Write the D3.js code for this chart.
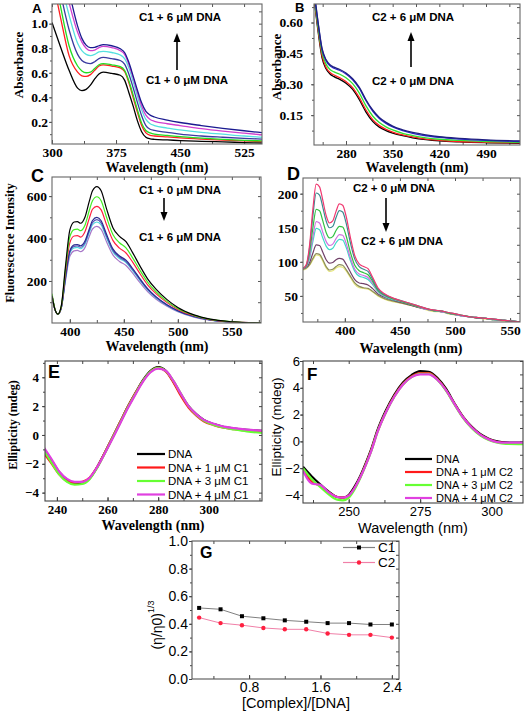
<!DOCTYPE html>
<html><head><meta charset="utf-8">
<script src="https://cdn.jsdelivr.net/npm/d3@7"></script>
<style>body{margin:0;background:#fff}</style>
</head><body>
<svg id="c" width="529" height="711" xmlns="http://www.w3.org/2000/svg"></svg>
<script>
// ---------------- Panel A: UV-vis C1 ----------------
const aWave = [300,310,320,330,335,340,345,350,355,360,370,380,385,390,395,400,405,410,415,420,435,450,475,500,525,546];
const aC1_0 = [1.01,0.81,0.62,0.475,0.455,0.465,0.50,0.55,0.59,0.605,0.595,0.58,0.54,0.44,0.33,0.21,0.12,0.075,0.062,0.058,0.053,0.048,0.042,0.037,0.032,0.028];
const aC1_1 = [1.38,1.05,0.74,0.605,0.575,0.57,0.585,0.62,0.655,0.665,0.655,0.64,0.61,0.52,0.40,0.28,0.17,0.11,0.09,0.085,0.078,0.07,0.06,0.052,0.045,0.04];
const aC1_2 = [1.50,1.14,0.82,0.655,0.615,0.60,0.605,0.635,0.665,0.675,0.665,0.65,0.62,0.535,0.42,0.30,0.19,0.13,0.11,0.10,0.09,0.08,0.068,0.058,0.05,0.045];
const aC1_3 = [1.60,1.25,0.95,0.75,0.70,0.68,0.675,0.69,0.715,0.725,0.715,0.70,0.67,0.59,0.48,0.36,0.25,0.17,0.14,0.13,0.115,0.10,0.085,0.075,0.066,0.06];
const aC1_4 = [1.70,1.35,1.07,0.84,0.78,0.75,0.74,0.75,0.77,0.775,0.765,0.745,0.715,0.64,0.53,0.41,0.30,0.22,0.185,0.17,0.15,0.135,0.115,0.10,0.085,0.075];
const aC1_5 = [1.80,1.45,1.17,0.93,0.85,0.80,0.78,0.785,0.805,0.815,0.805,0.78,0.75,0.67,0.56,0.44,0.33,0.255,0.22,0.205,0.185,0.17,0.145,0.125,0.108,0.095];
const aC1_6 = [1.90,1.55,1.26,0.98,0.88,0.825,0.805,0.807,0.82,0.83,0.82,0.795,0.765,0.685,0.575,0.46,0.355,0.285,0.255,0.24,0.215,0.195,0.17,0.148,0.128,0.112];
const aXTicks = [300,375,450,525];
const aYTicks = [0.2,0.4,0.6,0.8,1.0];

// ---------------- Panel B: UV-vis C2 ----------------
const bWave = [232,238,244,250,256,262,270,280,290,300,310,320,330,340,350,365,380,400,420,450,490,541];
const bC2_0 = [0.72,0.56,0.43,0.375,0.35,0.337,0.325,0.305,0.275,0.225,0.165,0.12,0.092,0.075,0.063,0.05,0.04,0.031,0.025,0.02,0.016,0.013];
const bC2_1 = [0.73,0.57,0.44,0.383,0.357,0.345,0.333,0.313,0.284,0.235,0.175,0.128,0.099,0.081,0.068,0.054,0.044,0.034,0.028,0.022,0.018,0.015];
const bC2_2 = [0.74,0.58,0.455,0.398,0.372,0.36,0.35,0.332,0.303,0.257,0.195,0.146,0.114,0.093,0.078,0.062,0.051,0.04,0.033,0.027,0.022,0.018];
const bC2_3 = [0.75,0.60,0.47,0.415,0.39,0.378,0.368,0.35,0.322,0.28,0.22,0.17,0.134,0.11,0.093,0.075,0.062,0.05,0.042,0.034,0.027,0.022];
const bC2_4 = [0.76,0.605,0.475,0.42,0.395,0.383,0.373,0.355,0.327,0.285,0.225,0.175,0.139,0.115,0.097,0.079,0.066,0.054,0.045,0.037,0.03,0.025];
const bXTicks = [280,350,420,490];
const bYTicks = [0.15,0.30,0.45,0.60];

// ---------------- Panel C: Fluorescence C1 ----------------
const cWave = [383.5,386,389,392,396,400,404,407,410,414,418,421,425,429,434,440,446,452,458,465,472,480,490,500,515,530,550,577];
const cC1_0 = [130,70,44,80,270,440,478,480,472,500,575,625,645,625,540,450,410,385,335,270,210,160,112,75,40,20,8,2];
const cC1_1 = [140,72,44,78,255,408,442,444,437,463,532,578,597,578,500,418,380,356,310,250,195,148,104,70,38,19,8,2];
const cC1_2 = [135,71,44,76,240,380,412,414,407,432,495,538,552,535,465,390,355,332,290,234,182,139,98,66,36,18,7,2];
const cC1_3 = [132,70,44,72,218,342,370,372,366,388,445,485,500,484,420,350,318,298,260,210,164,125,88,60,33,17,7,2];
const cC1_4 = [131,70,44,71,214,336,363,365,359,380,436,475,489,474,411,343,312,292,255,206,161,122,86,59,32,16,6,2];
const cC1_5 = [131,70,43,71,210,330,356,358,352,373,428,465,478,464,403,337,306,287,250,202,158,120,85,58,32,16,6,2];
const cC1_6 = [130,69,43,70,202,316,342,344,338,357,410,445,457,443,385,322,292,273,238,192,150,114,81,55,30,15,6,2];
const cXTicks = [400,450,500,550];
const cYTicks = [200,400,600];

// ---------------- Panel D: Fluorescence C2 ----------------
const dWave = [362,365,368,371,374,377,380,383,386,389,392,395,398,401,405,409,413,417,421,425,430,436,445,455,465,475,482,487,493,505,515,522,528,535,545,559];
const dC2_0 = [90,96,125,178,214,210,190,168,157,160,174,185,183,168,136,109,97,93,90,78,62,53,46,41,36,31,29,28,26,22,19,18,17,16,14,12];
const dC2_1 = [90,95,121,168,201,198,180,160,150,152,165,175,173,158,128,104,93,89,86,75,60,52,46,41,36,31,29,28,26,22,19,18,17,16,14,12];
const dC2_2 = [90,94,114,150,177,175,160,143,135,137,146,152,151,139,114,95,87,84,81,72,58,51,45,40,35,31,28,28,25,22,19,18,17,16,14,12];
const dC2_3 = [90,93,108,137,159,157,143,130,124,126,134,140,139,128,106,89,82,80,77,69,57,50,45,40,35,30,28,27,25,21,19,18,17,16,14,12];
const dC2_4 = [90,93,105,130,149,147,135,123,118,120,128,133,132,122,102,86,79,77,74,67,56,49,44,40,35,30,28,27,25,21,19,18,17,15,14,12];
const dC2_5 = [90,92,99,113,125,124,114,103,98,99,103,105,104,97,85,74,69,68,66,61,53,48,43,39,34,30,28,27,25,21,19,17,17,15,14,12];
const dC2_6 = [89,91,96,105,112,111,103,93,88,89,93,96,95,89,79,69,64,62,61,57,51,46,42,38,34,30,28,27,25,21,19,17,17,15,14,12];
const dC2_7 = [88,90,95,103,110,109,101,91,86,87,91,93,92,87,77,67,62,61,60,56,50,45,41,38,34,29,27,27,24,21,19,17,16,15,13,12];
const dXTicks = [400,450,500,550];
const dYTicks = [50,100,150,200];

// ---------------- Panel E: CD C1 ----------------
const eWave = [235,238,241,244,247,250,253,256,259,262,265,268,271,274,277,280,283,286,289,292,295,298,302,306,310,315,321];
const eDNA  = [-1.0,-1.8,-2.6,-3.1,-3.35,-3.35,-3.0,-2.2,-1.2,-0.15,0.9,1.95,2.9,3.8,4.45,4.7,4.45,3.7,2.8,2.0,1.45,1.05,0.75,0.55,0.45,0.35,0.28];
const eC1_1 = [-1.3,-2.0,-2.75,-3.2,-3.3,-3.25,-2.95,-2.2,-1.2,-0.15,0.9,1.95,2.9,3.75,4.4,4.65,4.4,3.65,2.7,1.9,1.35,0.95,0.68,0.5,0.4,0.3,0.22];
const eC1_3 = [-1.1,-1.95,-2.75,-3.25,-3.45,-3.4,-3.05,-2.25,-1.25,-0.2,0.85,1.9,2.85,3.75,4.4,4.65,4.45,3.75,2.85,2.0,1.4,1.0,0.7,0.5,0.38,0.25,0.15];
const eC1_4 = [-0.9,-1.7,-2.55,-3.05,-3.25,-3.25,-2.95,-2.2,-1.25,-0.25,0.8,1.85,2.8,3.7,4.35,4.6,4.45,3.75,2.85,2.0,1.45,1.05,0.78,0.58,0.47,0.37,0.3];
const eXTicks = [240,260,280,300];
const eYTicks = [-4,-2,0,2,4];
const eLegend = ["DNA","DNA + 1 μM C1","DNA + 3 μM C1","DNA + 4 μM C1"];

// ---------------- Panel F: CD C2 ----------------
const fWave = [234,237,240,243,246,248,250,252,254,256,258,260,263,266,269,272,275,278,281,284,287,290,293,296,299,302,305,311];
const fDNA  = [-1.9,-2.6,-3.2,-3.75,-4.15,-4.2,-4.0,-3.4,-2.6,-1.6,-0.5,0.8,2.3,3.5,4.4,4.95,5.25,5.2,4.75,3.95,2.85,1.85,1.1,0.55,0.2,0.0,-0.08,-0.1];
const fC2_1 = [-2.1,-3.0,-3.3,-3.8,-4.15,-4.2,-4.05,-3.5,-2.7,-1.7,-0.6,0.7,2.2,3.4,4.3,4.85,5.1,5.1,4.65,3.85,2.8,1.8,1.05,0.5,0.15,-0.05,-0.12,-0.15];
const fC2_3 = [-2.0,-2.8,-3.4,-3.95,-4.35,-4.4,-4.2,-3.6,-2.75,-1.75,-0.65,0.65,2.15,3.35,4.25,4.8,5.05,5.05,4.6,3.8,2.75,1.75,1.0,0.45,0.1,-0.1,-0.18,-0.2];
const fC2_4 = [-2.2,-3.15,-3.25,-3.8,-4.15,-4.2,-4.05,-3.5,-2.7,-1.75,-0.65,0.65,2.15,3.35,4.25,4.8,5.0,5.0,4.6,3.85,2.8,1.8,1.05,0.5,0.15,-0.05,-0.1,-0.1];
const fXTicks = [250,275,300];
const fYTicks = [-4,-2,0,2,4,6];
const fLegend = ["DNA","DNA + 1 μM C2","DNA + 3 μM C2","DNA + 4 μM C2"];

// ---------------- Panel G: viscosity ----------------
const gRatio = [0.24,0.48,0.72,0.96,1.2,1.44,1.68,1.92,2.16,2.4];
const gC1 = [0.515,0.505,0.455,0.44,0.425,0.415,0.405,0.405,0.395,0.395];
const gC2 = [0.445,0.405,0.39,0.37,0.36,0.36,0.33,0.32,0.32,0.30];
const gXTicks = [0.8,1.6,2.4];
const gYTicks = [0.0,0.2,0.4,0.6,0.8,1.0];

// ====================================================
const svg = d3.select('#c');
const SERIF = "'Liberation Serif','Times New Roman',serif";
const SANS = "'Liberation Sans',Arial,Helvetica,sans-serif";
const defs = svg.append('defs');

function minorTicks(domain, step) {
  const out = [];
  const s = Math.ceil(domain[0] / step - 1e-9);
  for (let k = s; k * step <= domain[1] + 1e-9; k++) out.push(+(k * step).toFixed(6));
  return out;
}

function panel(c) {
  const x = d3.scaleLinear().domain(c.xd).range([c.l, c.r]);
  const y = d3.scaleLinear().domain(c.yd).range([c.b, c.t]);
  const g = svg.append('g');
  const cid = 'clip-' + c.id;
  defs.append('clipPath').attr('id', cid).append('rect')
    .attr('x', c.l).attr('y', c.t).attr('width', c.r - c.l).attr('height', c.b - c.t);

  const styleAxis = sel => {
    sel.select('.domain').remove();
    sel.attr('font-family', c.font).attr('font-size', c.fs).attr('font-weight', c.fw);
    sel.selectAll('line').attr('stroke', c.axisColor);
    sel.selectAll('text').attr('fill', '#000').attr('font-family', c.font)
      .attr('font-size', c.fs).attr('font-weight', c.fw);
  };
  const xAll = minorTicks(c.xd, c.xMinor);
  const yAll = minorTicks(c.yd, c.yMinor);
  g.append('g').attr('transform', `translate(0,${c.b})`)
    .call(d3.axisBottom(x).tickValues(xAll).tickFormat('').tickSizeInner(-3).tickSizeOuter(0)).call(styleAxis);
  g.append('g').attr('transform', `translate(0,${c.b})`)
    .call(d3.axisBottom(x).tickValues(c.xt).tickFormat(c.xf).tickSizeInner(-4).tickSizeOuter(0).tickPadding(c.xpad)).call(styleAxis);
  g.append('g').attr('transform', `translate(0,${c.t})`)
    .call(d3.axisTop(x).tickValues(xAll).tickFormat('').tickSizeInner(-3).tickSizeOuter(0)).call(styleAxis);
  g.append('g').attr('transform', `translate(${c.l},0)`)
    .call(d3.axisLeft(y).tickValues(yAll).tickFormat('').tickSizeInner(2).tickSizeOuter(0)).call(styleAxis);
  g.append('g').attr('transform', `translate(${c.l},0)`)
    .call(d3.axisLeft(y).tickValues(c.yt).tickFormat(c.yf).tickSizeInner(3).tickSizeOuter(0).tickPadding(c.ypad)).call(styleAxis);
  g.append('g').attr('transform', `translate(${c.r},0)`)
    .call(d3.axisRight(y).tickValues(yAll).tickFormat('').tickSizeInner(-3).tickSizeOuter(0)).call(styleAxis);

  const line = d3.line().x(d => x(d[0])).y(d => y(d[1])).curve(c.curve || d3.curveMonotoneX);
  const lg = g.append('g').attr('clip-path', `url(#${cid})`);
  c.series.forEach(s => {
    lg.append('path').datum(c.xs.map((v, i) => [v, s.v[i]]))
      .attr('d', line).attr('fill', 'none').attr('stroke', s.color)
      .attr('stroke-width', c.lw).attr('stroke-linejoin', 'round');
  });
  g.append('rect').attr('x', c.l).attr('y', c.t).attr('width', c.r - c.l).attr('height', c.b - c.t)
    .attr('fill', 'none').attr('stroke', c.frameColor).attr('stroke-width', 1.1);
  return {x, y, g};
}

function text(t, x, y, o) {
  const e = svg.append('text').attr('x', x).attr('y', y).text(t)
    .attr('font-family', o.font).attr('font-size', o.fs).attr('font-weight', o.fw || 'normal')
    .attr('text-anchor', o.anchor || 'middle').attr('fill', '#000');
  if (o.rot) e.attr('transform', `rotate(-90,${x},${y})`).attr('dominant-baseline', 'central');
  return e;
}
function arrow(x, y1, y2) {
  const dir = y2 < y1 ? -1 : 1;
  svg.append('line').attr('x1', x).attr('x2', x).attr('y1', y1).attr('y2', y2 - dir * 8)
    .attr('stroke', '#000').attr('stroke-width', 1.6);
  svg.append('path').attr('d', `M${x - 3.5},${y2 - dir * 9}L${x + 3.5},${y2 - dir * 9}L${x},${y2}Z`).attr('fill', '#000');
}

const serifB = {font: SERIF, fw: 'bold'};
const f2 = d3.format('.2f'), f1 = d3.format('.1f'), f0 = d3.format('d');

// Panel A
panel({id: 'A', l: 52, r: 262, t: 4, b: 144, xd: [300, 546], yd: [0.02, 1.16],
  xt: aXTicks, yt: aYTicks, xf: f0, yf: f1, xMinor: 37.5, yMinor: 0.1, xpad: 3.5, ypad: 1,
  font: SERIF, fs: 13.5, fw: 'bold', axisColor: '#555', frameColor: '#666', lw: 1.3, xs: aWave,
  series: [{v: aC1_0, color: '#000'}, {v: aC1_1, color: '#ff2020'}, {v: aC1_2, color: '#22dd22'},
           {v: aC1_3, color: '#3a3aa0'}, {v: aC1_4, color: '#55e0e0'}, {v: aC1_5, color: '#d040d0'},
           {v: aC1_6, color: '#1a1a90'}]});
text('Wavelength (nm)', 157, 172, {...serifB, fs: 14});
text('Absorbance', 18, 65, {...serifB, fs: 13, rot: true});
text('A', 32, 13, {font: SANS, fw: 900, fs: 13.5, anchor: 'start'});
text('C1 + 6 μM DNA', 180, 21, {font: SANS, fw: 'bold', fs: 11.5});
text('C1 + 0 μM DNA', 187, 84, {font: SANS, fw: 'bold', fs: 11.5});
arrow(177, 70, 33);

// Panel B
panel({id: 'B', l: 314, r: 520, t: 4, b: 145, xd: [232, 541], yd: [0.005, 0.69],
  xt: bXTicks, yt: bYTicks, xf: f0, yf: f2, xMinor: 35, yMinor: 0.075, xpad: 3, ypad: 8,
  font: SERIF, fs: 13.5, fw: 'bold', axisColor: '#555', frameColor: '#666', lw: 1.3, xs: bWave,
  series: [{v: bC2_0, color: '#000'}, {v: bC2_1, color: '#ff2020'}, {v: bC2_2, color: '#30e030'},
           {v: bC2_3, color: '#2828c8'}, {v: bC2_4, color: '#202080'}]});
text('Wavelength (nm)', 417, 172, {...serifB, fs: 14});
text('Absorbance', 276, 67, {...serifB, fs: 13, rot: true});
text('B', 295, 12, {font: SANS, fw: 900, fs: 13, anchor: 'start'});
text('C2 + 6 μM DNA', 413, 21, {font: SANS, fw: 'bold', fs: 11.5});
text('C2 + 0 μM DNA', 413, 85, {font: SANS, fw: 'bold', fs: 11.5});
arrow(411, 67, 32);

// Panel C
panel({id: 'C', l: 52, r: 261, t: 177, b: 323, xd: [383.5, 577], yd: [2, 690],
  xt: cXTicks, yt: cYTicks, xf: f0, yf: f0, xMinor: 25, yMinor: 100, xpad: 3.5, ypad: 2,
  font: SERIF, fs: 13.5, fw: 'bold', axisColor: '#555', frameColor: '#666', lw: 1.2, xs: cWave,
  series: [{v: cC1_6, color: '#a878c8'}, {v: cC1_5, color: '#50d8e0'}, {v: cC1_4, color: '#5a5ab8'},
           {v: cC1_3, color: '#2a2a90'}, {v: cC1_2, color: '#ff2040'}, {v: cC1_1, color: '#44ee22'},
           {v: cC1_0, color: '#000'}]});
text('Wavelength (nm)', 157, 350.5, {...serifB, fs: 14});
text('Fluorescence Intensity', 10, 243, {...serifB, fs: 12.5, rot: true});
text('C', 31, 182, {font: SANS, fw: 900, fs: 18, anchor: 'start'});
text('C1 + 0 μM DNA', 180, 194, {font: SANS, fw: 'bold', fs: 11.5});
text('C1 + 6 μM DNA', 180, 241, {font: SANS, fw: 'bold', fs: 11.5});
arrow(164, 198, 221);

// Panel D
panel({id: 'D', l: 303, r: 520, t: 178, b: 322, xd: [362, 559], yd: [11.7, 223],
  xt: dXTicks, yt: dYTicks, xf: f0, yf: f0, xMinor: 25, yMinor: 25, xpad: 3.5, ypad: 2,
  font: SERIF, fs: 13.5, fw: 'bold', axisColor: '#555', frameColor: '#666', lw: 1.2, xs: dWave,
  series: [{v: dC2_7, color: '#e6e67a'}, {v: dC2_6, color: '#8c8c5a'}, {v: dC2_5, color: '#704068'},
           {v: dC2_4, color: '#40d8c8'}, {v: dC2_3, color: '#d070e0'}, {v: dC2_2, color: '#30c040'},
           {v: dC2_1, color: '#3a8a90'}, {v: dC2_0, color: '#f03870'}]});
text('Wavelength (nm)', 411, 352.5, {...serifB, fs: 14});
text('D', 287, 180, {font: SANS, fw: 900, fs: 18, anchor: 'start'});
text('C2 + 0 μM DNA', 394, 192, {font: SANS, fw: 'bold', fs: 11.5});
text('C2 + 6 μM DNA', 402, 245, {font: SANS, fw: 'bold', fs: 11.5});
arrow(386, 198, 232);

// Panel E
const eCols = ['#000', '#ff1a1a', '#66ff33', '#e040e0'];
panel({id: 'E', l: 45, r: 262, t: 361, b: 501, xd: [235.3, 321], yd: [-4.58, 5.13],
  xt: eXTicks, yt: eYTicks, xf: f0, yf: f0, xMinor: 10, yMinor: 1, xpad: 3.5, ypad: 3,
  font: SERIF, fs: 13, fw: 'bold', axisColor: '#444', frameColor: '#444', lw: 2.2, xs: eWave,
  series: [{v: eDNA, color: eCols[0]}, {v: eC1_1, color: eCols[1]}, {v: eC1_3, color: eCols[2]}, {v: eC1_4, color: eCols[3]}]});
text('Wavelength (nm)', 153, 530, {...serifB, fs: 14});
text('Ellipticity (mdeg)', 13, 425, {...serifB, fs: 12, rot: true});
text('E', 48, 378, {font: SANS, fw: 900, fs: 18, anchor: 'start'});
const eLegY = [454, 467.5, 481, 494.5];
eLegend.forEach((t, i) => {
  svg.append('line').attr('x1', 137).attr('x2', 165).attr('y1', eLegY[i]).attr('y2', eLegY[i])
    .attr('stroke', eCols[i]).attr('stroke-width', 2.2);
  text(t, 168, eLegY[i] + 4.1, {font: SANS, fs: 11.5, anchor: 'start'});
});

// Panel F
panel({id: 'F', l: 303, r: 523, t: 361, b: 503, xd: [234, 311], yd: [-4.6, 6],
  xt: fXTicks, yt: fYTicks, xf: f0, yf: f0, xMinor: 12.5, yMinor: 1, xpad: 4, ypad: 0,
  font: SANS, fs: 13, fw: 'normal', axisColor: '#444', frameColor: '#444', lw: 2.2, xs: fWave,
  series: [{v: fDNA, color: eCols[0]}, {v: fC2_1, color: eCols[1]}, {v: fC2_3, color: eCols[2]}, {v: fC2_4, color: eCols[3]}]});
text('Wavelength (nm)', 413, 533, {font: SANS, fs: 14.5});
text('Ellipticity (mdeg)', 276, 427, {font: SANS, fs: 13.5, rot: true});
text('F', 307, 380, {font: SANS, fw: 900, fs: 17, anchor: 'start'});
const fLegY = [459, 472, 485, 498];
fLegend.forEach((t, i) => {
  svg.append('line').attr('x1', 405).attr('x2', 432).attr('y1', fLegY[i]).attr('y2', fLegY[i])
    .attr('stroke', eCols[i]).attr('stroke-width', 2.2);
  text(t, 436, fLegY[i] + 4, {font: SANS, fs: 11, anchor: 'start'});
});

// Panel G
const G = panel({id: 'G', l: 192, r: 399, t: 541, b: 679, xd: [0.16, 2.48], yd: [0, 1],
  xt: gXTicks, yt: gYTicks, xf: f1, yf: f1, xMinor: 0.4, yMinor: 0.1, xpad: 3, ypad: 1,
  font: SANS, fs: 14, fw: 'normal', axisColor: '#444', frameColor: '#555', lw: 1, xs: gRatio,
  curve: d3.curveLinear,
  series: [{v: gC1, color: '#808080'}, {v: gC2, color: '#f080a8'}]});
G.g.selectAll('rect.m1').data(gRatio).join('rect').attr('class', 'm1')
  .attr('x', (d) => G.x(d) - 2).attr('y', (d, i) => G.y(gC1[i]) - 2).attr('width', 4).attr('height', 4).attr('fill', '#000');
G.g.selectAll('circle.m2').data(gRatio).join('circle').attr('class', 'm2')
  .attr('cx', d => G.x(d)).attr('cy', (d, i) => G.y(gC2[i])).attr('r', 2.2).attr('fill', '#ff2040');
text('[Complex]/[DNA]', 296, 708, {font: SANS, fs: 14.5});
const gy = svg.append('text').attr('transform', 'translate(157,625) rotate(-90)')
  .attr('text-anchor', 'middle').attr('dominant-baseline', 'central')
  .attr('font-family', SANS).attr('font-size', 14).attr('fill', '#000');
gy.append('tspan').text('(η/η0)');
gy.append('tspan').text('1/3').attr('font-size', 9).attr('dy', -6);
text('G', 200, 558, {font: SANS, fw: 900, fs: 16, anchor: 'start'});
[[gC1, '#808080', 547.5, 'C1'], [gC2, '#f080a8', 562.5, 'C2']].forEach(([arr, col, yy, lab], i) => {
  svg.append('line').attr('x1', 343).attr('x2', 375).attr('y1', yy).attr('y2', yy).attr('stroke', col).attr('stroke-width', 1.2);
  if (i === 0) svg.append('rect').attr('x', 359 - 2).attr('y', yy - 2).attr('width', 4).attr('height', 4).attr('fill', '#000');
  else svg.append('circle').attr('cx', 359).attr('cy', yy).attr('r', 2.2).attr('fill', '#ff2040');
  text(lab, 378, yy + 4.8, {font: SANS, fs: 13.5, anchor: 'start'});
});
</script>
</body></html>
